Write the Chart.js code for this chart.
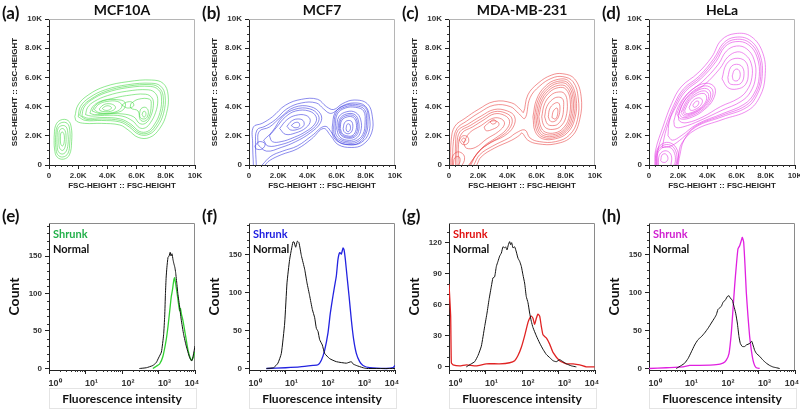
<!DOCTYPE html>
<html>
<head>
<meta charset="utf-8">
<script src="https://cdn.jsdelivr.net/npm/chart.js@4.4.0/dist/chart.umd.min.js"></script>
<style>
  body { margin: 0; background: #fff; }
  #wrap { position: relative; width: 800px; height: 410px; overflow: hidden; }
  #wrap canvas { position: absolute; }
  .txt { position: absolute; font-family: Lato, "Open Sans", sans-serif; font-weight: bold; white-space: nowrap; line-height: 1; }
  .fbox { position: absolute; border: 1px solid #e4e4e4; }
</style>
</head>
<body>
<div id="wrap"></div>
<script>
// ---- labels ----
const cellLines = ['MCF10A', 'MCF7', 'MDA-MB-231', 'HeLa'];
const topLetters = ['(a)', '(b)', '(c)', '(d)'];
const bottomLetters = ['(e)', '(f)', '(g)', '(h)'];
const kTicks = [0, 2, 4, 6, 8, 10];           // thousands
const logTicks = [1, 10, 100, 1000, 10000];
const logLabels = ['10\u2070', '10\u00b9', '10\u00b2', '10\u00b3', '10\u2074\u2003\u2003'];
const countTicks = [[0, 50, 100, 150], [0, 50, 100, 150], [0, 30, 60, 90, 120], [0, 50, 100, 150]];
const countMin = [-2, -2, -3, -2];
const countMax = [194, 192, 139, 192];

const contourColors = ['rgba(60,215,60,0.7)', 'rgba(60,60,225,0.75)', 'rgba(232,60,60,0.7)', 'rgba(228,60,228,0.75)'];
const shrunkColors = ['#30d030', '#2323e0', '#e02323', '#e020e0'];
const legendColors = ['#22b04a', '#1c1ce0', '#e01010', '#d020d0'];

// ---- contour rings, FSC / SSC height in K ----
const contourA = [
  [[0.35,1.9],[0.45,2.7],[0.8,3.08],[1.3,3.05],[1.52,2.6],[1.55,1.6],[1.4,0.7],[1.0,0.4],[0.55,0.55],[0.38,1.1],[0.35,1.9]],
  [[0.45,1.9],[0.55,2.6],[0.85,2.9],[1.25,2.85],[1.42,2.4],[1.42,1.5],[1.3,0.8],[0.95,0.55],[0.6,0.7],[0.47,1.2],[0.45,1.9]],
  [[0.55,1.9],[0.62,2.5],[0.9,2.7],[1.18,2.6],[1.3,2.1],[1.3,1.4],[1.15,0.9],[0.9,0.75],[0.65,0.9],[0.56,1.3],[0.55,1.9]],
  [[0.68,1.9],[0.72,2.35],[0.92,2.5],[1.1,2.35],[1.17,1.9],[1.12,1.3],[0.95,1.0],[0.76,1.1],[0.68,1.4],[0.68,1.9]],
  [[0.78,1.85],[0.82,2.2],[0.95,2.25],[1.05,2.0],[1.03,1.5],[0.92,1.3],[0.8,1.45],[0.78,1.85]],
  [[1.77,3.31],[1.99,4.11],[2.68,4.79],[3.82,5.37],[5.42,5.71],[7.02,5.82],[7.82,5.59],[8.16,4.79],[8.05,3.54],[7.59,2.51],[6.9,1.89],[6.11,1.89],[5.42,2.4],[4.85,2.74],[3.59,2.85],[2.45,2.85],[1.88,3.01],[1.77,3.31]],
  [[2.0,3.3],[2.15,4.0],[2.75,4.6],[3.85,5.15],[5.4,5.5],[7.0,5.6],[7.65,5.4],[7.95,4.75],[7.85,3.55],[7.4,2.6],[6.85,2.1],[6.15,2.1],[5.5,2.6],[4.85,2.95],[3.6,3.05],[2.5,3.05],[2.0,3.3]],
  [[2.1,3.4],[2.3,4.0],[2.85,4.5],[3.9,5.05],[5.4,5.4],[7.0,5.5],[7.55,5.28],[7.82,4.7],[7.72,3.58],[7.3,2.68],[6.8,2.2],[6.18,2.2],[5.55,2.7],[4.88,3.05],[3.65,3.15],[2.6,3.12],[2.1,3.4]],
  [[2.25,3.35],[2.4,3.95],[2.9,4.45],[3.9,4.95],[5.4,5.3],[6.95,5.38],[7.5,5.15],[7.7,4.65],[7.6,3.6],[7.2,2.75],[6.75,2.3],[6.2,2.3],[5.6,2.8],[4.9,3.15],[3.7,3.25],[2.7,3.2],[2.25,3.35]],
  [[2.5,3.45],[2.65,3.95],[3.1,4.35],[4.0,4.75],[5.3,5.05],[6.8,5.15],[7.3,4.9],[7.45,4.4],[7.3,3.6],[6.95,2.9],[6.6,2.55],[6.2,2.55],[5.75,3.0],[5.0,3.35],[3.8,3.4],[2.9,3.35],[2.5,3.45]],
  [[2.8,3.55],[3.0,4.0],[3.5,4.35],[4.3,4.55],[5.3,4.75],[6.6,4.85],[7.05,4.6],[7.15,4.1],[6.95,3.3],[6.6,2.85],[6.2,2.85],[5.8,3.3],[5.0,3.5],[3.9,3.5],[3.1,3.45],[2.8,3.55]],
  [[2.95,3.7],[3.2,4.1],[3.8,4.42],[4.6,4.48],[5.2,4.3],[5.1,3.8],[4.4,3.55],[3.5,3.52],[2.95,3.7]],
  [[3.1,3.8],[3.4,4.15],[3.95,4.35],[4.7,4.35],[5.0,4.05],[4.7,3.7],[4.0,3.55],[3.4,3.6],[3.1,3.8]],
  [[3.45,3.85],[3.7,4.1],[4.05,4.2],[4.45,4.1],[4.55,3.9],[4.3,3.7],[3.85,3.65],[3.5,3.72],[3.45,3.85]],
  [[3.65,3.87],[3.85,4.02],[4.1,4.05],[4.28,3.92],[4.1,3.76],[3.8,3.76],[3.65,3.87]],
  [[5.6,4.2],[6.1,4.5],[6.9,4.5],[7.0,4.1],[6.85,3.3],[6.55,3.0],[6.25,3.1],[6.1,3.7],[5.6,3.9],[5.6,4.2]],
  [[6.2,3.5],[6.3,3.85],[6.6,3.95],[6.8,3.7],[6.7,3.25],[6.45,3.15],[6.25,3.25],[6.2,3.5]],
  [[6.38,3.45],[6.45,3.65],[6.6,3.65],[6.63,3.4],[6.5,3.28],[6.38,3.45]],
  [[5.0,4.1],[5.3,4.3],[5.7,4.3],[5.8,4.05],[5.4,3.9],[5.0,4.1]]
];

const contourB = [
  [[0.3,0],[0.25,1.5],[0.3,2.6],[0.9,2.85],[1.6,3.3],[2.5,4.1],[3.6,4.5],[4.7,4.5],[5.3,4.0],[5.8,3.8],[6.4,4.2],[7.2,4.45],[8.1,4.2],[8.45,3.3],[8.4,2.2],[7.8,1.4],[7.0,1.2],[6.1,1.4],[5.6,2.0],[5.1,2.5],[4.3,1.8],[3.3,1.1],[2.2,0.7],[1.4,0.3],[1.1,0]],
  [[0.5,0],[0.45,1.4],[0.55,2.4],[1.1,2.65],[1.8,3.1],[2.6,3.85],[3.6,4.25],[4.6,4.25],[5.1,3.85],[5.5,3.55],[5.8,3.6],[6.4,4.05],[7.2,4.25],[7.95,4.05],[8.25,3.3],[8.2,2.2],[7.7,1.55],[7.0,1.38],[6.2,1.55],[5.75,2.1],[5.2,2.65],[4.3,2.0],[3.3,1.3],[2.3,0.95],[1.5,0.6],[0.9,0]],
  [[0.6,1.4],[0.7,2.3],[1.4,2.6],[2.2,3.3],[3.1,3.95],[4.2,4.0],[4.9,3.5],[4.9,2.9],[4.2,2.2],[3.2,1.6],[2.2,1.2],[1.2,0.95],[0.6,1.4]],
  [[1.0,1.7],[1.6,2.3],[2.3,3.3],[3.15,3.82],[4.15,3.85],[4.75,3.4],[4.7,2.85],[4.05,2.25],[3.15,1.75],[2.2,1.4],[1.3,1.3],[1.0,1.7]],
  [[1.4,2.0],[1.9,2.6],[2.5,3.3],[3.2,3.7],[4.1,3.7],[4.6,3.3],[4.5,2.8],[3.9,2.3],[3.1,1.9],[2.2,1.6],[1.6,1.6],[1.4,2.0]],
  [[2.1,2.5],[2.6,3.1],[3.2,3.4],[3.9,3.4],[4.2,3.05],[3.9,2.55],[3.2,2.2],[2.5,2.1],[2.1,2.5]],
  [[2.6,2.65],[2.9,3.0],[3.3,3.15],[3.7,3.05],[3.75,2.7],[3.35,2.45],[2.85,2.4],[2.6,2.65]],
  [[2.9,2.7],[3.1,2.88],[3.4,2.9],[3.45,2.65],[3.15,2.55],[2.9,2.7]],
  [[0.4,1.3],[0.7,1.6],[1.1,1.45],[0.9,1.1],[0.5,1.1],[0.4,1.3]],
  [[5.7,2.6],[5.9,3.6],[6.5,4.05],[7.3,4.15],[8.0,3.9],[8.15,3.0],[8.0,2.1],[7.5,1.5],[6.8,1.4],[6.1,1.6],[5.75,2.0],[5.7,2.6]],
  [[5.8,2.6],[5.97,3.55],[6.55,3.97],[7.3,4.05],[7.92,3.8],[8.05,2.95],[7.9,2.1],[7.4,1.57],[6.75,1.5],[6.15,1.7],[5.85,2.05],[5.8,2.6]],
  [[5.9,2.6],[6.05,3.5],[6.6,3.9],[7.3,3.95],[7.85,3.7],[7.95,2.9],[7.8,2.1],[7.3,1.65],[6.7,1.6],[6.2,1.8],[5.95,2.1],[5.9,2.6]],
  [[6.0,2.5],[6.15,3.3],[6.7,3.65],[7.3,3.6],[7.65,3.1],[7.65,2.3],[7.3,1.8],[6.7,1.7],[6.2,1.95],[6.0,2.5]],
  [[6.1,2.5],[6.25,3.2],[6.7,3.5],[7.25,3.45],[7.5,3.0],[7.5,2.3],[7.2,1.9],[6.7,1.85],[6.3,2.05],[6.1,2.5]],
  [[6.18,2.5],[6.3,3.12],[6.72,3.4],[7.2,3.35],[7.42,2.92],[7.4,2.3],[7.12,1.95],[6.7,1.92],[6.35,2.1],[6.18,2.5]],
  [[6.25,2.5],[6.35,3.05],[6.75,3.3],[7.15,3.25],[7.35,2.85],[7.3,2.3],[7.05,2.0],[6.7,2.0],[6.4,2.15],[6.25,2.5]],
  [[6.45,2.5],[6.55,2.9],[6.8,3.05],[7.05,2.95],[7.1,2.5],[6.95,2.2],[6.7,2.15],[6.5,2.3],[6.45,2.5]],
  [[6.65,2.5],[6.72,2.78],[6.88,2.8],[6.95,2.5],[6.85,2.3],[6.7,2.32],[6.65,2.5]]
];

const contourC = [
  [[0.12,0],[0.15,1.7],[0.4,2.65],[1.1,3.2],[2.0,3.8],[3.1,4.35],[4.3,4.25],[4.9,3.8],[5.1,3.6],[5.4,4.8],[6.1,5.6],[7.0,6.15],[7.8,6.25],[8.6,5.9],[9.05,4.7],[8.95,3.1],[8.4,1.95],[7.3,1.45],[6.1,1.45],[5.4,1.7],[5.0,2.2],[4.85,2.05],[4.3,1.7],[3.1,1.15],[2.2,0.55],[1.9,0]],
  [[0.25,0],[0.3,1.6],[0.55,2.5],[1.2,3.0],[2.1,3.6],[3.1,4.1],[4.2,4.0],[4.75,3.55],[5.2,3.2],[5.55,4.6],[6.2,5.4],[7.05,5.95],[7.8,6.05],[8.5,5.7],[8.85,4.6],[8.8,3.1],[8.25,2.05],[7.3,1.6],[6.2,1.6],[5.55,1.85],[5.2,2.4],[4.6,2.2],[4.1,1.85],[3.0,1.3],[2.1,0.7],[1.7,0]],
  [[5.75,3.3],[6.0,4.5],[6.6,5.4],[7.4,5.85],[8.2,5.75],[8.7,4.6],[8.6,3.1],[8.1,2.2],[7.3,1.8],[6.4,1.8],[5.9,2.3],[5.75,3.3]],
  [[5.85,3.3],[6.1,4.45],[6.68,5.3],[7.42,5.72],[8.15,5.62],[8.6,4.58],[8.5,3.12],[8.02,2.28],[7.3,1.9],[6.45,1.9],[6.0,2.38],[5.85,3.3]],
  [[5.95,3.3],[6.2,4.4],[6.75,5.2],[7.45,5.6],[8.1,5.5],[8.5,4.55],[8.4,3.15],[7.95,2.35],[7.3,2.0],[6.5,2.0],[6.1,2.45],[5.95,3.3]],
  [[6.05,3.3],[6.3,4.35],[6.82,5.1],[7.48,5.45],[8.05,5.35],[8.4,4.5],[8.3,3.18],[7.88,2.42],[7.28,2.1],[6.55,2.12],[6.2,2.52],[6.05,3.3]],
  [[6.15,3.3],[6.4,4.3],[6.9,5.0],[7.5,5.3],[8.0,5.2],[8.3,4.45],[8.2,3.2],[7.8,2.5],[7.25,2.2],[6.6,2.25],[6.3,2.6],[6.15,3.3]],
  [[6.35,3.3],[6.55,4.2],[7.0,4.8],[7.5,5.0],[7.9,4.9],[8.1,4.3],[8.0,3.25],[7.65,2.65],[7.2,2.45],[6.7,2.5],[6.45,2.8],[6.35,3.3]],
  [[6.55,3.3],[6.7,4.0],[7.1,4.5],[7.5,4.65],[7.8,4.5],[7.85,4.0],[7.75,3.25],[7.45,2.8],[7.1,2.7],[6.75,2.8],[6.55,3.3]],
  [[6.8,3.3],[6.9,3.85],[7.2,4.2],[7.5,4.25],[7.6,3.9],[7.5,3.3],[7.25,3.0],[6.95,3.0],[6.8,3.3]],
  [[7.05,3.25],[7.15,3.7],[7.4,3.9],[7.45,3.55],[7.3,3.15],[7.05,3.25]],
  [[0.45,0],[0.45,1.5],[0.6,2.35],[1.3,2.8],[2.2,3.35],[3.1,3.8],[4.0,3.7],[4.5,3.3],[4.4,2.6],[3.8,2.0],[2.9,1.55],[2.0,0.9],[1.5,0]],
  [[0.55,0],[0.55,1.45],[0.75,2.28],[1.45,2.7],[2.3,3.22],[3.1,3.65],[3.9,3.55],[4.32,3.15],[4.15,2.5],[3.5,1.92],[2.65,1.42],[1.9,0.75],[1.42,0]],
  [[0.7,0],[0.65,1.4],[0.9,2.2],[1.6,2.6],[2.4,3.1],[3.1,3.5],[3.8,3.4],[4.15,3.0],[3.9,2.4],[3.2,1.85],[2.4,1.3],[1.8,0.6],[1.35,0]],
  [[1.0,1.5],[1.4,2.2],[2.2,2.7],[3.0,3.2],[3.6,3.15],[3.8,2.8],[3.4,2.3],[2.6,1.8],[1.8,1.2],[1.2,1.15],[1.0,1.5]],
  [[2.4,2.6],[2.9,3.0],[3.35,2.95],[3.4,2.7],[3.0,2.45],[2.55,2.35],[2.4,2.6]],
  [[2.8,2.95],[3.05,3.1],[3.25,2.95],[3.0,2.8],[2.8,2.95]],
  [[0.7,1.7],[0.95,2.0],[1.3,1.9],[1.3,1.5],[0.95,1.4],[0.7,1.7]],
  [[0.85,1.7],[1.0,1.85],[1.15,1.7],[1.0,1.55],[0.85,1.7]],
  [[0.2,0],[0.25,0.6],[0.6,0.9],[1.0,0.7],[1.05,0.3],[0.9,0]],
  [[0.3,0],[0.4,0.5],[0.7,0.55],[0.75,0.2],[0.6,0]]
];

const contourD = [
  [[0.4,0],[0.45,1.0],[0.95,2.6],[1.55,4.2],[2.2,5.35],[3.35,6.3],[4.3,7.4],[4.95,8.55],[5.9,9.0],[7.0,8.8],[7.8,7.65],[7.95,6.05],[7.6,4.7],[6.8,3.75],[5.0,3.1],[3.15,2.4],[2.25,1.5],[2.0,0.55],[1.9,0]],
  [[0.55,0],[0.6,1.0],[1.1,2.55],[1.7,4.1],[2.35,5.2],[3.45,6.1],[4.45,7.3],[5.1,8.35],[5.9,8.75],[6.9,8.55],[7.6,7.55],[7.75,6.05],[7.4,4.8],[6.7,3.95],[5.0,3.3],[3.2,2.6],[2.4,1.7],[2.1,0.6],[2.0,0]],
  [[0.9,1.2],[1.2,2.5],[1.78,4.05],[2.42,5.12],[3.5,6.0],[4.52,7.2],[5.15,8.22],[5.92,8.6],[6.85,8.4],[7.5,7.48],[7.65,6.05],[7.3,4.85],[6.6,4.05],[5.0,3.4],[3.25,2.7],[2.3,1.85],[1.5,1.3],[0.9,1.2]],
  [[1.3,2.0],[1.4,3.0],[1.85,4.0],[2.5,5.05],[3.55,5.9],[4.6,7.1],[5.2,8.1],[5.95,8.45],[6.8,8.25],[7.4,7.4],[7.55,6.05],[7.2,4.9],[6.5,4.15],[5.0,3.5],[3.3,2.8],[2.2,2.0],[1.6,1.7],[1.3,2.0]],
  [[1.7,3.0],[2.0,4.0],[2.65,4.9],[3.65,5.7],[4.75,6.9],[5.3,7.8],[6.0,8.15],[6.7,7.95],[7.2,7.2],[7.3,6.05],[6.95,5.0],[6.3,4.35],[5.0,3.75],[3.5,3.05],[2.3,2.6],[1.8,2.6],[1.7,3.0]],
  [[2.0,3.4],[2.3,4.2],[2.85,4.85],[3.8,5.5],[4.85,6.6],[5.4,7.4],[6.05,7.75],[6.6,7.55],[7.0,6.95],[7.05,6.0],[6.7,5.1],[6.1,4.55],[4.9,4.0],[3.7,3.3],[2.6,2.9],[2.1,3.0],[2.0,3.4]],
  [[1.9,3.5],[2.3,4.4],[3.0,5.2],[3.9,5.6],[4.5,5.3],[4.4,4.5],[3.8,3.8],[3.0,3.3],[2.2,3.15],[1.9,3.5]],
  [[2.05,3.55],[2.42,4.38],[3.05,5.08],[3.85,5.42],[4.35,5.15],[4.25,4.45],[3.7,3.82],[2.95,3.38],[2.3,3.25],[2.05,3.55]],
  [[2.2,3.6],[2.55,4.35],[3.1,4.95],[3.8,5.25],[4.2,5.0],[4.1,4.4],[3.6,3.85],[2.9,3.45],[2.4,3.35],[2.2,3.6]],
  [[2.32,3.68],[2.65,4.35],[3.15,4.85],[3.78,5.08],[4.08,4.82],[3.95,4.3],[3.48,3.82],[2.85,3.5],[2.45,3.45],[2.32,3.68]],
  [[2.45,3.75],[2.75,4.35],[3.2,4.75],[3.75,4.9],[3.95,4.65],[3.8,4.2],[3.35,3.8],[2.8,3.55],[2.5,3.55],[2.45,3.75]],
  [[2.75,3.95],[3.0,4.4],[3.4,4.6],[3.65,4.45],[3.55,4.1],[3.15,3.8],[2.85,3.75],[2.75,3.95]],
  [[3.0,4.1],[3.2,4.35],[3.4,4.35],[3.35,4.1],[3.1,3.95],[3.0,4.1]],
  [[5.0,5.9],[5.3,6.9],[5.9,7.3],[6.6,7.1],[6.8,6.3],[6.6,5.5],[6.0,5.2],[5.4,5.3],[5.0,5.9]],
  [[5.4,6.0],[5.6,6.7],[6.0,6.9],[6.4,6.7],[6.5,6.1],[6.3,5.6],[5.9,5.5],[5.5,5.6],[5.4,6.0]],
  [[5.7,6.1],[5.85,6.5],[6.1,6.55],[6.25,6.2],[6.1,5.8],[5.8,5.8],[5.7,6.1]],
  [[0.45,0],[0.5,0.9],[0.9,1.45],[1.5,1.5],[1.95,1.0],[2.0,0.3],[1.9,0]],
  [[0.5,0],[0.55,0.85],[0.92,1.32],[1.48,1.35],[1.85,0.9],[1.9,0.25],[1.8,0]],
  [[0.55,0],[0.6,0.8],[0.95,1.2],[1.45,1.2],[1.75,0.8],[1.8,0.2],[1.7,0]],
  [[0.65,0],[0.7,0.65],[1.0,0.95],[1.35,0.9],[1.55,0.55],[1.5,0]],
  [[0.8,0.3],[0.9,0.7],[1.15,0.75],[1.3,0.45],[1.15,0.2],[0.9,0.2],[0.8,0.3]]
];

// ---- histograms: [fluorescence, count] ----
const normalE = [[300,0],[464,1],[700,4],[871,8],[1000,14],[1202,22],[1380,45],[1479,70],[1550,100],[1622,122],[1700,135],[1820,148],[1950,150],[2089,155],[2200,150],[2344,153],[2500,145],[2630,140],[2800,135],[2951,128],[3200,112],[3388,100],[3800,82],[4169,66],[4898,45],[5754,30],[7079,15],[8128,10],[9000,18],[10000,30]];
const shrunkE = [[700,0],[871,3],[1072,6],[1318,16],[1622,38],[1820,56],[2042,78],[2239,96],[2399,104],[2630,118],[2754,121],[2951,113],[3236,100],[3631,82],[3802,77],[4000,80],[4266,72],[4677,64],[5370,47],[6457,24],[7943,11],[8913,14],[9772,22]];

const normalF = [[3,0],[4.7,1],[6.2,7],[7.7,20],[9.5,60],[11,113],[13,144],[16,167],[17.1,167],[19,160],[21.1,168],[23.4,166],[27.2,149],[33.5,131],[38.8,113],[45.9,96],[54.3,78],[63,67],[70,53],[77.7,49],[86.3,38],[102,31],[118,20],[162,13],[247,9],[464,7],[637,9],[707,6],[871,4],[1328,1],[1640,0],[10000,0]];
const shrunkF = [[3,0],[10,1],[24.4,2],[56.6,4],[77.7,5],[96,11],[118,24],[146,47],[169,73],[200,96],[222,109],[247,122],[274,144],[305,153],[339,151],[376,159],[401,157],[436,144],[484,122],[550,96],[637,64],[738,38],[871,20],[1076,9],[1328,4],[2023,1],[5794,0],[8810,1],[10000,4]];

const normalG = [[2.98,0],[4.09,3],[5.05,5],[6.23,11],[7.69,20],[9.49,39],[11,52],[12.5,65],[14.5,78],[16,86],[17.8,87],[19.8,97],[22,102],[24.4,107],[27.2,110],[30.1,116],[33.5,115],[35.7,116],[38.8,113],[42.3,118],[45.9,121],[48.9,118],[52.1,120],[56.6,115],[63,116],[70,111],[77.7,105],[86.3,102],[96,97],[106,89],[118,81],[131,68],[146,62],[162,52],[180,44],[200,38],[247,30],[305,23],[376,17],[464,12],[573,9],[707,6],[871,5],[1076,7],[1328,5],[1640,3],[2249,1],[3083,0]];
const shrunkG = [[1,80],[1.11,49],[1.16,4],[1.29,2],[1.96,1],[2.98,2],[5.6,1],[10.5,3],[24.4,3],[45.9,4],[63,6],[77.7,11],[96,19],[118,30],[146,43],[162,47],[180,49],[200,47],[222,41],[247,47],[274,51],[305,49],[339,39],[376,31],[464,28],[573,22],[707,14],[1076,6],[1640,3],[2495,3],[3802,2],[5794,0],[9795,0]];

const normalH = [[5.6,0],[7.69,4],[9.49,7],[11.7,13],[14.5,22],[17.8,31],[22,38],[27.2,42],[33.5,47],[41.3,53],[51,60],[63,67],[70,71],[77.7,78],[86.3,80],[96,82],[106,87],[126,91],[140,95],[156,96],[169,93],[192,90],[213,82],[237,73],[263,60],[292,42],[318,33],[360,29],[418,29],[464,31],[573,33],[650,36],[707,31],[785,24],[871,20],[1076,16],[1328,11],[1640,7],[2023,4],[2495,2],[3083,1],[3802,0]];
const shrunkH = [[1,0],[2.98,1],[8.55,2],[13,4],[24.4,4],[70,5],[106,7],[131,11],[156,20],[180,47],[200,78],[222,109],[247,136],[274,158],[305,162],[339,169],[360,173],[392,167],[427,136],[464,100],[515,69],[573,42],[637,24],[707,11],[785,4],[871,1],[1076,0]];

const contours = [contourA, contourB, contourC, contourD];
const normals = [normalE, normalF, normalG, normalH];
const shrunks = [shrunkE, shrunkF, shrunkG, shrunkH];

// ---- helpers ----
const wrap = document.getElementById('wrap');
const tickFont = { family: '"Liberation Sans", Arial, sans-serif', weight: 'bold', size: 8 };

function addCanvas(left, top, w, h) {
  const c = document.createElement('canvas');
  c.width = w; c.height = h;
  c.style.left = left + 'px'; c.style.top = top + 'px';
  c.style.width = w + 'px'; c.style.height = h + 'px';
  wrap.appendChild(c);
  return c;
}
function addText(text, x, y, size, color, center) {
  const d = document.createElement('div');
  d.className = 'txt';
  d.textContent = text;
  d.style.left = x + 'px'; d.style.top = y + 'px';
  d.style.fontSize = size + 'px'; d.style.color = color;
  d.style.transform = center ? 'translate(-50%,-50%)' : 'translateY(-50%)';
  wrap.appendChild(d);
}
const toXY = arr => arr.map(p => ({ x: p[0], y: p[1] }));

// gray top/right frame
const frame = {
  id: 'frame',
  beforeDatasetsDraw(chart, args, opts) {
    const { ctx, chartArea: { left, top, right, bottom } } = chart;
    ctx.save();
    ctx.strokeStyle = opts.color || '#aaa';
    ctx.lineWidth = 1;
    ctx.beginPath();
    ctx.moveTo(left, top + 0.5);
    ctx.lineTo(right - 0.5, top + 0.5);
    ctx.lineTo(right - 0.5, bottom);
    ctx.stroke();
    ctx.restore();
  }
};
// short minor ticks
const minorTicks = {
  id: 'minorTicks',
  afterDraw(chart, args, opts) {
    const { ctx, chartArea } = chart;
    ctx.save();
    ctx.strokeStyle = '#333';
    ctx.lineWidth = 1;
    ctx.beginPath();
    (opts.x || []).forEach(v => {
      const px = Math.round(chart.scales.x.getPixelForValue(v)) + 0.5;
      ctx.moveTo(px, chartArea.bottom); ctx.lineTo(px, chartArea.bottom + 2);
    });
    (opts.y || []).forEach(v => {
      const py = Math.round(chart.scales.y.getPixelForValue(v)) + 0.5;
      ctx.moveTo(chartArea.left, py); ctx.lineTo(chartArea.left - 2, py);
    });
    ctx.stroke();
    ctx.restore();
  }
};

function fmtK(v) {
  if (v === 0) return '0';
  if (v === 10) return '10K';
  return v.toFixed(1) + 'K';
}

const minorKx = [], minorKy = [];
for (let v = 0.4; v < 10; v += 0.4) if (Math.abs(v / 2 - Math.round(v / 2)) > 0.01) minorKx.push(v);
for (let v = 0.5; v < 10; v += 0.5) if (Math.abs(v / 2 - Math.round(v / 2)) > 0.01) minorKy.push(v);
const minorLog = [];
[1, 10, 100, 1000].forEach(d => { for (let m = 2; m < 10; m++) minorLog.push(m * d); });

// ---- top row: contour plots ----
cellLines.forEach((name, i) => {
  const left = i * 200;
  const canvas = addCanvas(left, 0, 220, 200);
  new Chart(canvas, {
    type: 'scatter',
    data: {
      datasets: contours[i].map(ring => ({
        data: toXY(ring),
        showLine: true,
        borderColor: contourColors[i],
        borderWidth: 0.8,
        pointRadius: 0,
        tension: 0.4
      }))
    },
    options: {
      responsive: false,
      animation: false,
      events: [],
      layout: { padding: { top: 19, right: 25, left: 0, bottom: 0 } },
      plugins: {
        legend: { display: false },
        tooltip: { enabled: false },
        frame: { color: '#b5b5b5' },
        minorTicks: { x: minorKx, y: minorKy }
      },
      scales: {
        x: {
          type: 'linear', min: 0, max: 10,
          afterBuildTicks: s => { s.ticks = kTicks.map(v => ({ value: v })); },
          afterFit: s => { s.height = 35; },
          ticks: { callback: fmtK, font: tickFont, color: '#333', padding: 2, maxRotation: 0, autoSkip: false },
          grid: { drawOnChartArea: false, color: '#222', tickLength: 4 },
          border: { color: '#222' },
          title: { display: true, text: 'FSC-HEIGHT :: FSC-HEIGHT', color: '#222', font: tickFont, padding: { top: 0, bottom: 9 } }
        },
        y: {
          type: 'linear', min: 0, max: 10,
          afterBuildTicks: s => { s.ticks = kTicks.map(v => ({ value: v })); },
          afterFit: s => { s.width = 49; },
          ticks: { callback: fmtK, font: tickFont, color: '#333', padding: 3, autoSkip: false },
          grid: { drawOnChartArea: false, color: '#222', tickLength: 4 },
          border: { color: '#222' },
          title: { display: true, text: 'SSC-HEIGHT :: SSC-HEIGHT', color: '#222', font: tickFont, padding: { top: 10, bottom: 0 } }
        }
      }
    },
    plugins: [frame, minorTicks]
  });
  addText(topLetters[i], left + 2, 12, 17, '#111', false);
  addText(name, left + 122, 10, 14, '#111', true);
});

// ---- bottom row: histograms ----
bottomLetters.forEach((letter, i) => {
  const left = i * 200;
  const canvas = addCanvas(left, 205, 220, 205);
  const minorCounts = [];
  const step = countTicks[i][1];
  for (let v = 10; v < countMax[i]; v += 10) if (v % step !== 0) minorCounts.push(v);
  new Chart(canvas, {
    type: 'scatter',
    data: {
      datasets: [
        { data: toXY(normals[i]), showLine: true, borderColor: '#111', borderWidth: 1, pointRadius: 0, tension: 0.15 },
        { data: toXY(shrunks[i]), showLine: true, borderColor: shrunkColors[i], borderWidth: 1.3, pointRadius: 0, tension: 0.15 }
      ]
    },
    options: {
      responsive: false,
      animation: false,
      events: [],
      layout: { padding: { top: 18, right: 25, left: 0, bottom: 0 } },
      plugins: {
        legend: { display: false },
        tooltip: { enabled: false },
        frame: { color: '#8a8a8a' },
        minorTicks: { x: minorLog, y: minorCounts }
      },
      scales: {
        x: {
          type: 'logarithmic', min: 1, max: 10000,
          afterBuildTicks: s => { s.ticks = logTicks.map(v => ({ value: v })); },
          afterFit: s => { s.height = 40; },
          ticks: {
            callback: (v, idx) => logLabels[idx],
            font: { family: '"Liberation Sans", Arial, sans-serif', weight: 'bold', size: 9 },
            color: '#333', padding: 4, labelOffset: 6, maxRotation: 0, autoSkip: false
          },
          grid: { drawOnChartArea: false, color: '#222', tickLength: 4 },
          border: { color: '#222' },
          title: { display: true, text: 'Fluorescence intensity', color: '#111', font: { family: 'Lato, "Open Sans", sans-serif', weight: 'bold', size: 12 }, padding: { top: 0, bottom: 4 } }
        },
        y: {
          type: 'linear', min: countMin[i], max: countMax[i],
          afterBuildTicks: s => { s.ticks = countTicks[i].map(v => ({ value: v })); },
          afterFit: s => { s.width = 49; },
          ticks: { font: tickFont, color: '#333', padding: 3, autoSkip: false },
          grid: { drawOnChartArea: false, color: '#222', tickLength: 4 },
          border: { color: '#222' },
          title: { display: true, text: 'Count', color: '#111', font: { family: 'Lato, "Open Sans", sans-serif', weight: 'bold', size: 14 }, padding: { top: 6, bottom: 0 } }
        }
      }
    },
    plugins: [frame, minorTicks]
  });
  const box = document.createElement('div');
  box.className = 'fbox';
  box.style.cssText = `left:${left + 49}px;top:388px;width:146px;height:19px;`;
  wrap.appendChild(box);
  addText(letter, left + 2, 215, 17, '#111', false);
  addText('Shrunk', left + 53, 233, 11, legendColors[i], false);
  addText('Normal', left + 53, 248, 11, '#111', false);
});
</script>
</body>
</html>
